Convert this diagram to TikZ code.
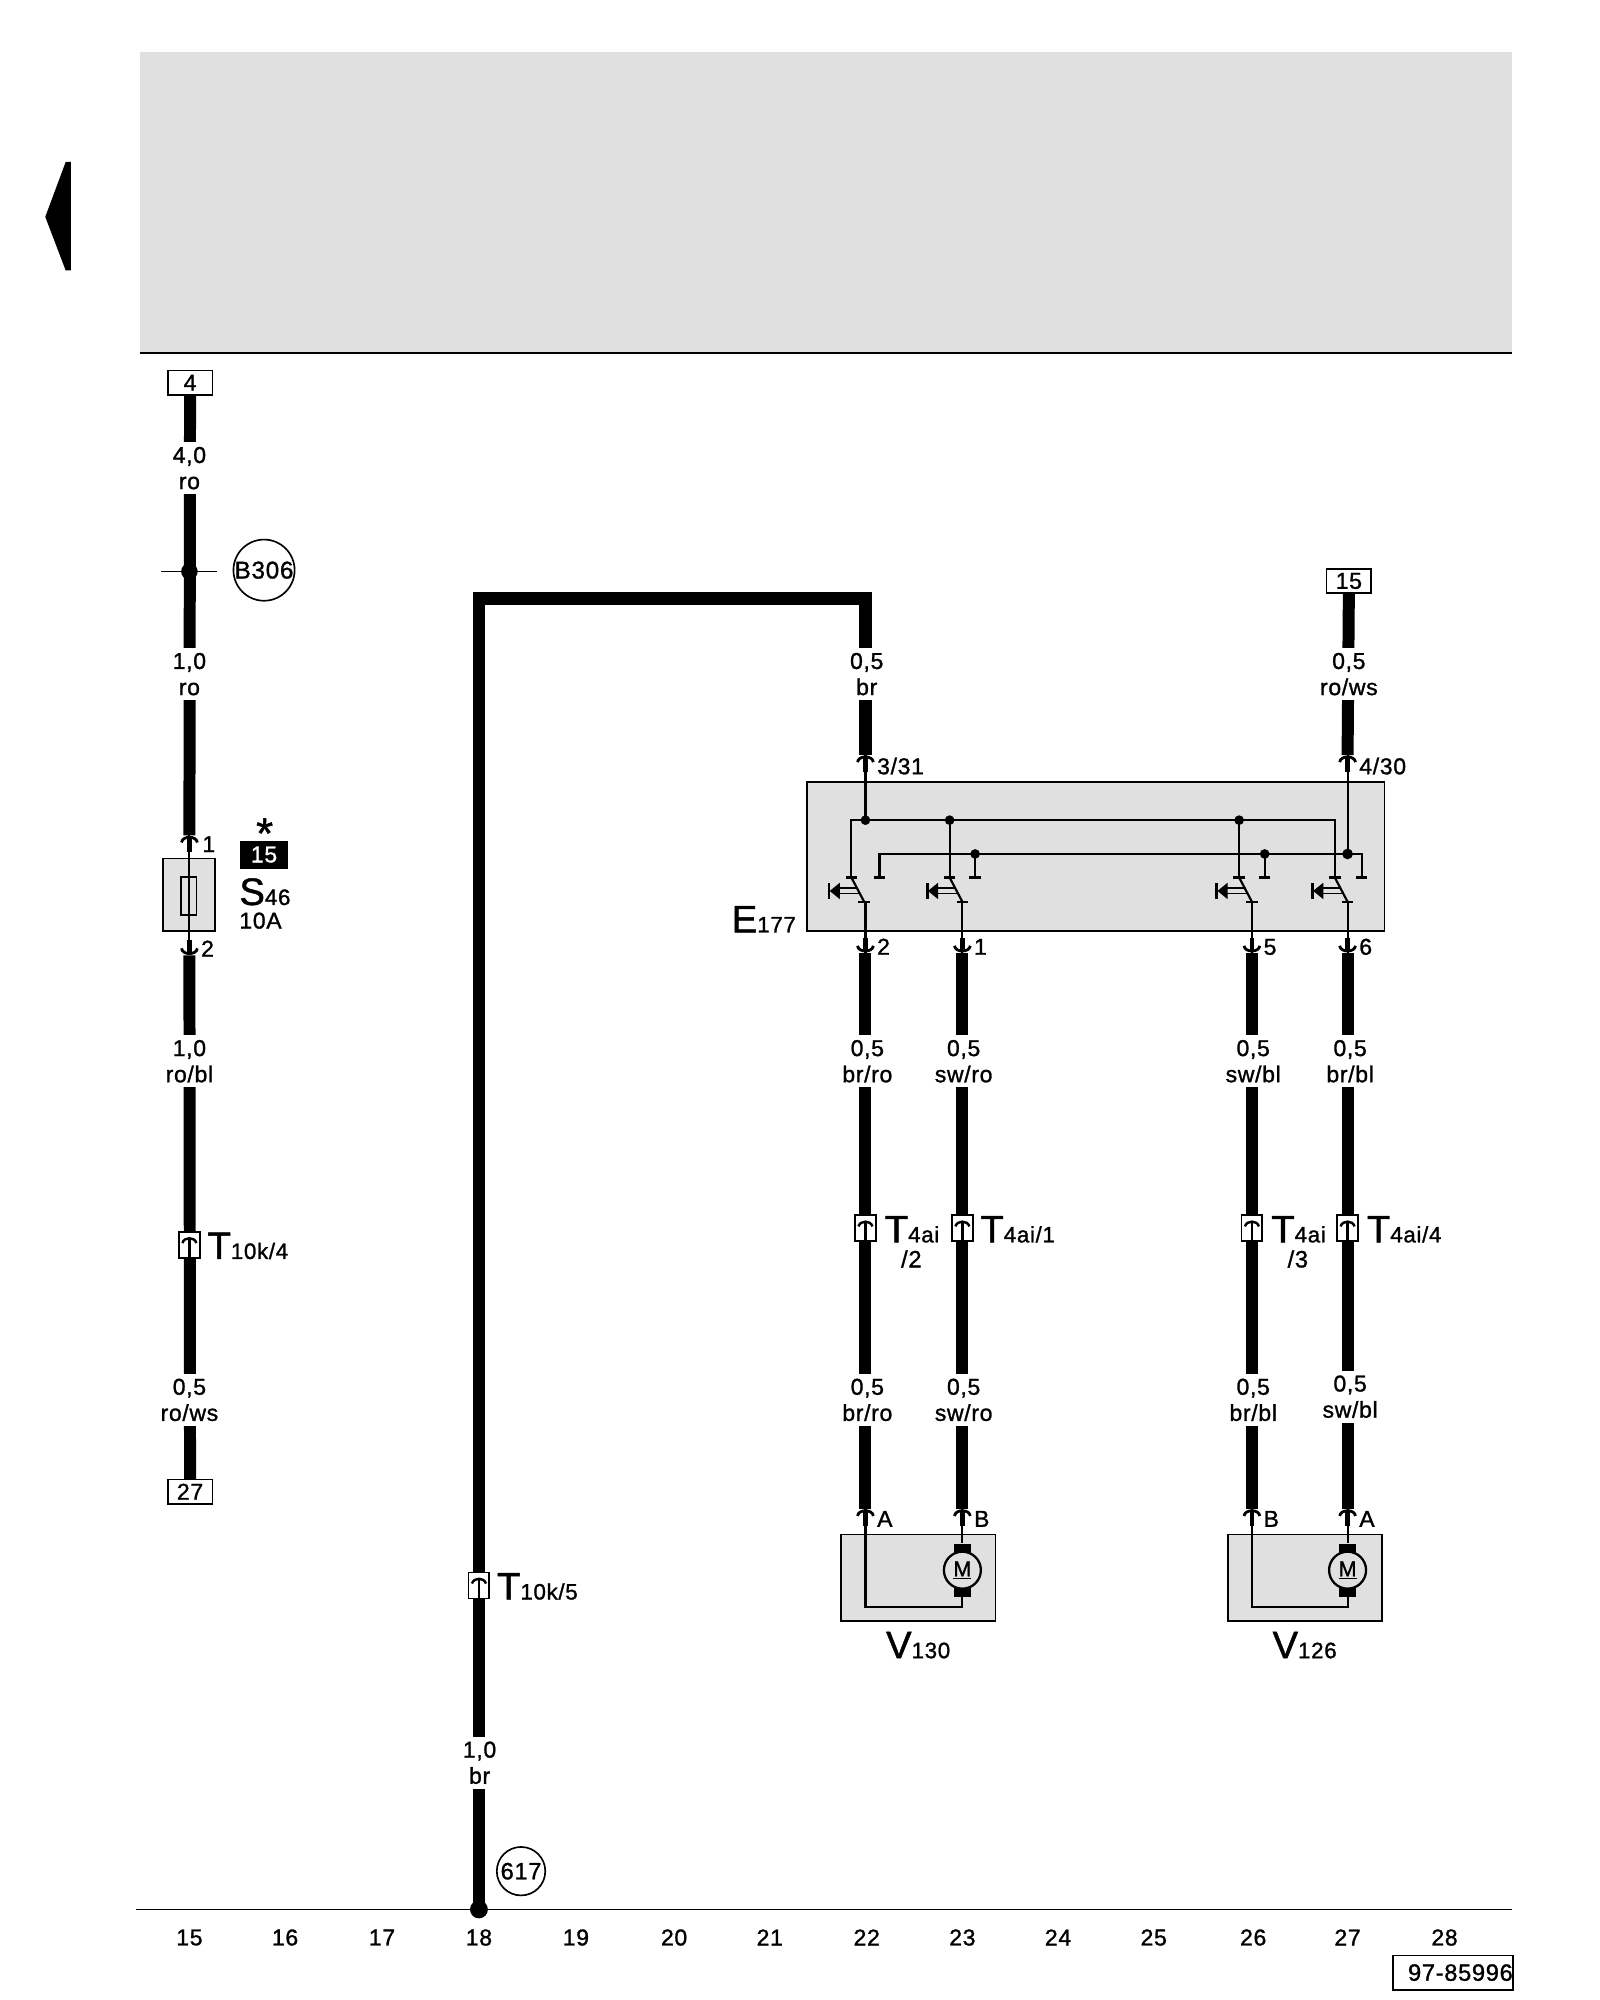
\documentclass[tikz,border=0pt]{standalone}
\usepackage{fontspec}
\setmainfont{Liberation Sans}[FakeBold=1.2,LetterSpace=3]
\definecolor{boxgrey}{HTML}{E0E0E0}
\newcommand{\partlab}[2]{{\fontsize{30}{30}\selectfont #1}{\fontsize{17.5}{22}\selectfont #2}}
\tikzset{
  wire/.style={line width=9.4pt},
  wiremain/.style={line width=10pt},
  thinwire/.style={line width=1.7pt},
  greybox/.style={draw,fill=boxgrey,line width=1.4pt,inner sep=0pt},
  termbox/.style={draw,fill=white,line width=1.3pt,inner sep=0pt,minimum width=35pt,minimum height=19pt,font=\fontsize{18}{20}\selectfont},
  wirelab/.style={fill=white,align=center,inner xsep=1pt,inner ysep=0pt,minimum height=41pt,font=\fontsize{18}{20.5}\selectfont},
  pinlab/.style={anchor=base west,inner sep=0pt,font=\fontsize{18}{20}\selectfont},
  partname/.style={anchor=base west,inner sep=0pt},
  ringlab/.style={circle,draw,line width=1.3pt,inner sep=0pt},
  colnum/.style={inner sep=0pt,font=\fontsize{18}{20}\selectfont},
  pintop/.pic={
    \draw[line width=2.2pt] (-6.2,5.5) .. controls (-5.5,0) and (5.5,0) .. (6.2,5.5);
    \draw[line width=3.8pt] (0,2) -- (0,13);
  },
  pinbot/.pic={
    \draw[line width=2.2pt] (-6.2,-5.5) .. controls (-5.5,0) and (5.5,0) .. (6.2,-5.5);
    \draw[line width=3.8pt] (0,-2) -- (0,-12);
  },
  plug/.pic={
    \filldraw[fill=white,line width=1.5pt] (-8.2,-10.2) rectangle (8.2,10.2);
    \draw[line width=1.9pt] (-5.5,-1.5) .. controls (-4,-6.5) and (4,-6.5) .. (5.5,-1.5);
    \draw[line width=1.9pt] (0,-5) -- (0,10);
  },
  switchc/.pic={
    \draw[thinwire] (-4.5,0) -- (4.5,0);
    \draw[thinwire] (5.5,19) -- (14.5,19);
    \draw[thinwire] (0,0) -- (10,19);
    \draw[line width=2.2pt] (-17.5,4.5) -- (-17.5,16.5);
    \fill (-17,10.5) -- (-9,4) -- (-9,17) -- cycle;
    \draw[line width=1.5pt] (-9.5,8.5) -- (4.5,8.5);
    \draw[line width=1.5pt] (-9.5,12.5) -- (6.5,12.5);
  }
}
\begin{document}
\begin{tikzpicture}[x=1pt,y=-1pt]
  \useasboundingbox (-0.5,0) rectangle (1253.9,1568);

  % Header band and page marker
  \fill[boxgrey] (109,41) rectangle (1185,277);
  \draw[line width=1.4pt] (109,277) -- (1185,277);
  \fill (35,170) -- (51,127) -- (55,127) -- (55,212) -- (51,212) -- cycle;

  % Ground line and column numbers
  \draw[line width=1.4pt] (106,1497) -- (1185,1497);
  \foreach \x/\n in {148/15,223/16,299/17,375/18,451/19,528/20,603/21,679/22,754/23,829/24,904/25,982/26,1056/27,1132/28}
    \node[colnum] (col\n) at (\x,1519) {\n};
  \node[draw,line width=1.3pt,inner sep=0pt,text width=94pt,align=right,minimum height=27pt,font=\fontsize{18.5}{20}\selectfont] (docno) at (1138.5,1546.5) {97-85996};

  % Terminals and pin positions
  \node[termbox] (t4) at (148.5,300) {4};
  \node[termbox] (t27) at (148.5,1169.5) {27};
  \node[termbox] (t15) at (1057,455.5) {15};
  \coordinate (fuseup) at (148,655);
  \coordinate (fusedn) at (148,749);
  \coordinate (p22up) at (678,592);
  \coordinate (p27up) at (1056,592);
  \coordinate (p22dn) at (678,747);
  \coordinate (p23dn) at (754,747);
  \coordinate (p26dn) at (981,747);
  \coordinate (p27dn) at (1056,747);
  \coordinate (v22) at (678,1183);
  \coordinate (v23) at (754,1183);
  \coordinate (v26) at (981,1183);
  \coordinate (v27) at (1056,1183);
  \coordinate (gnd) at (375,1497);
  \coordinate (corner1) at (375,469);
  \coordinate (corner2) at (678,469);

  % Thick wires
  \draw[wire] (t4.south) -- (fuseup);
  \draw[wire] (fusedn) -- (t27.north);
  \draw[wiremain] (gnd) -- (corner1) -- (corner2) -- (p22up);
  \draw[wire] (t15.south) -- (p27up);
  \draw[wire] (p22dn) -- (v22);
  \draw[wire] (p23dn) -- (v23);
  \draw[wire] (p26dn) -- (v26);
  \draw[wire] (p27dn) -- (v27);

  % Splice on wire 15 and ground point
  \coordinate (spl1) at (126,448);
  \coordinate (spl2) at (170,448);
  \draw[line width=1.3pt] (spl1) -- (spl2);
  \fill (148,448) circle (6.5);
  \node[ringlab,minimum size=47pt,font=\fontsize{19}{20}\selectfont] (b306) at (206.5,447) {B306};
  \fill (gnd) circle (7);
  \node[ringlab,minimum size=38pt,font=\fontsize{18.5}{20}\selectfont] (r617) at (408,1467) {617};

  % Fuse
  \node[greybox,minimum width=41pt,minimum height=57pt] (s46) at (147.5,701.5) {};
  \node[draw,line width=1.4pt,fill=boxgrey,inner sep=0pt,minimum width=12pt,minimum height=30pt] (fuse) at (147.5,702.5) {};
  \draw[thinwire] (fuseup) -- (fusedn);
  \pic at (fuseup) {pintop};
  \pic at (fusedn) {pinbot};
  \node[pinlab] (l1) at (158,668) {1};
  \node[pinlab] (l2) at (157,750) {2};
  \node[anchor=base,inner sep=0pt,font=\fontsize{34}{34}\selectfont] (star) at (207,665) {\raisebox{0pt}[0.75em][-0.4em]{*}};
  \node[fill=black,text=white,inner sep=0pt,minimum width=37pt,minimum height=22pt,font=\fontsize{18}{20}\selectfont] (tag15) at (206.5,670) {15};
  \node[partname] (s46lab) at (187,709.5) {\partlab{S}{46}};
  \node[pinlab] (s46amp) at (187,728) {10A};

  % Switch unit
  \node[greybox,minimum width=453pt,minimum height=117pt] (e177) at (858.5,671.5) {};
  \node[partname] (e177lab) at (573,731) {\partlab{E}{177}};
  \draw[thinwire] (667,688) -- (667,643) -- (1046,643) -- (1046,688);
  \draw[thinwire] (689,688) -- (689,669.5) -- (1067,669.5) -- (1067,688);
  \draw[thinwire] (684.5,688) -- (693.5,688);
  \draw[thinwire] (1062.5,688) -- (1071.5,688);
  \foreach \x in {744,971}
    \draw[thinwire] (\x,643) -- (\x,688);
  \foreach \x in {764,991} {
    \draw[thinwire] (\x,669.5) -- (\x,688);
    \draw[thinwire] (\x-4.5,688) -- (\x+4.5,688);
    \fill (\x,669.5) circle (3.8);
  }
  \foreach \x in {678,744,971}
    \fill (\x,643) circle (3.8);
  \fill (1056,669.5) circle (4.2);
  \draw[thinwire] (p22up) -- (678,643);
  \draw[thinwire] (p27up) -- (1056,669.5);
  \foreach \x in {667,744,971,1046}
    \pic at (\x,688) {switchc};
  \foreach \x in {678,754,981,1056}
    \draw[thinwire] (\x,707) -- (\x,747);
  \pic at (p22up) {pintop};
  \pic at (p27up) {pintop};
  \pic at (p22dn) {pinbot};
  \pic at (p23dn) {pinbot};
  \pic at (p26dn) {pinbot};
  \pic at (p27dn) {pinbot};
  \node[pinlab] (l331) at (687,607) {3/31};
  \node[pinlab] (l430) at (1065,607) {4/30};
  \node[pinlab] (l22) at (687,748.5) {2};
  \node[pinlab] (l23) at (763,748.5) {1};
  \node[pinlab] (l26) at (990,748.5) {5};
  \node[pinlab] (l27) at (1065,748.5) {6};

  % Wire labels
  \node[wirelab] (w1) at (148,367) {4,0\\ro};
  \node[wirelab] (w2) at (148,528.5) {1,0\\ro};
  \node[wirelab] (w3) at (148,832) {1,0\\ro/bl};
  \node[wirelab] (w4) at (148,1097.5) {0,5\\ro/ws};
  \node[wirelab] (w5) at (375.5,1382) {1,0\\br};
  \node[wirelab] (w6) at (679,528.5) {0,5\\br};
  \node[wirelab] (w7) at (1057,528.5) {0,5\\ro/ws};
  \node[wirelab] (w8) at (679.5,832) {0,5\\br/ro};
  \node[wirelab] (w9) at (755,832) {0,5\\sw/ro};
  \node[wirelab] (w10) at (982,832) {0,5\\sw/bl};
  \node[wirelab] (w11) at (1058,832) {0,5\\br/bl};
  \node[wirelab] (w12) at (679.5,1097.5) {0,5\\br/ro};
  \node[wirelab] (w13) at (755,1097.5) {0,5\\sw/ro};
  \node[wirelab] (w14) at (982,1097.5) {0,5\\br/bl};
  \node[wirelab] (w15) at (1058,1095) {0,5\\sw/bl};

  % Plug connectors
  \pic at (148,976) {plug};
  \pic at (375,1243) {plug};
  \pic at (678,963) {plug};
  \pic at (754,963) {plug};
  \pic at (981,963) {plug};
  \pic at (1056,963) {plug};
  \node[partname] (t10k4) at (162,987) {\partlab{T}{10k/4}};
  \node[partname] (t10k5) at (389,1254) {\partlab{T}{10k/5}};
  \node[partname] (t4ai2) at (693,974) {\partlab{T}{4ai}};
  \node[colnum,font=\fontsize{18.5}{20}\selectfont] (t4ai2b) at (714,987) {/2};
  \node[partname] (t4ai1) at (768,974) {\partlab{T}{4ai/1}};
  \node[partname] (t4ai3) at (996,974) {\partlab{T}{4ai}};
  \node[colnum,font=\fontsize{18.5}{20}\selectfont] (t4ai3b) at (1017,987) {/3};
  \node[partname] (t4ai4) at (1071,974) {\partlab{T}{4ai/4}};

  % Motors
  \node[greybox,minimum width=121pt,minimum height=68pt] (v130) at (719.5,1237) {};
  \node[greybox,minimum width=121pt,minimum height=68pt] (v126) at (1022.5,1237) {};
  \foreach \a/\b/\m in {678/754/a,981/1056/b} {
    \node[fill=black,inner sep=0pt,minimum width=13pt,minimum height=7.5pt] (brt\m) at (\b,1214) {};
    \node[fill=black,inner sep=0pt,minimum width=13pt,minimum height=7.5pt] (brb\m) at (\b,1248) {};
    \node[circle,draw,line width=1.8pt,fill=boxgrey,inner sep=0pt,minimum size=29pt,font=\fontsize{17}{18}\selectfont] (mot\m) at (\b,1231) {\underline{M}};
    \draw[thinwire] (\a,1183) -- (\a,1260) -- (\b,1260) -- (brb\m.south);
    \draw[thinwire] (\b,1183) -- (brt\m.north);
  }
  \pic at (v22) {pintop};
  \pic at (v23) {pintop};
  \pic at (v26) {pintop};
  \pic at (v27) {pintop};
  \node[pinlab] (la) at (687,1197) {A};
  \node[pinlab] (lb) at (763,1197) {B};
  \node[pinlab] (lc) at (990,1197) {B};
  \node[pinlab] (ld) at (1065,1197) {A};
  \node[partname] (v130lab) at (694,1300) {\partlab{V}{130}};
  \node[partname] (v126lab) at (997,1300) {\partlab{V}{126}};
\end{tikzpicture}
\end{document}
